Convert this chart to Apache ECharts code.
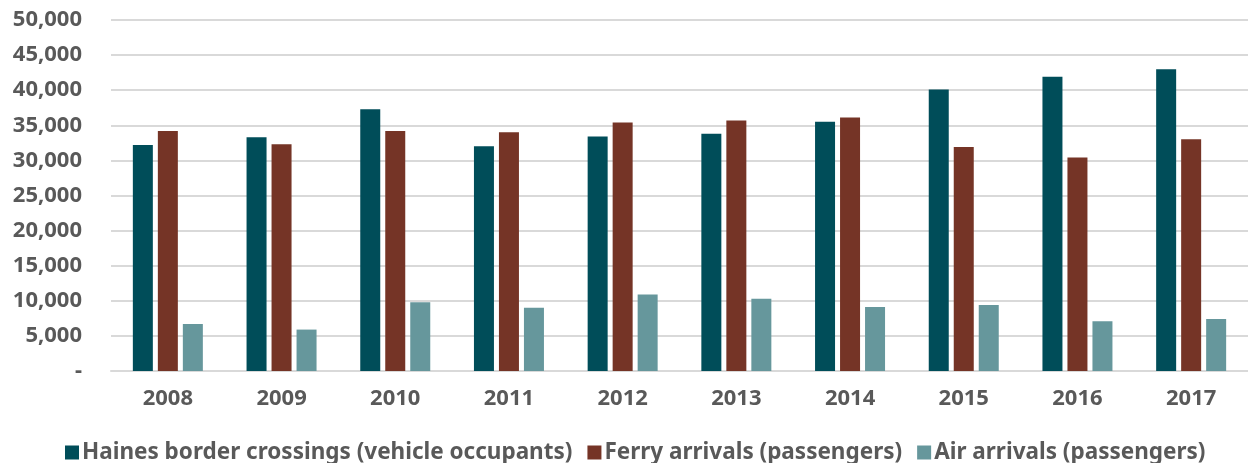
<!DOCTYPE html>
<html>
<head>
<meta charset="utf-8">
<script src="https://cdn.jsdelivr.net/npm/echarts@6/dist/echarts.min.js"></script>
<style>
  html, body { margin: 0; padding: 0; background: #ffffff; }
  #chart { width: 1248px; height: 463px; }
</style>
</head>
<body>
<div id="chart"></div>
<script>
var years = ["2008", "2009", "2010", "2011", "2012", "2013", "2014", "2015", "2016", "2017"];
var hainesBorder = [32200, 33300, 37300, 32000, 33400, 33800, 35500, 40100, 41900, 43000];
var ferryArrivals = [34200, 32300, 34200, 34000, 35400, 35700, 36100, 31900, 30400, 33000];
var airArrivals = [6700, 5900, 9800, 9000, 10900, 10300, 9100, 9400, 7100, 7400];
var seriesNames = [
  "Haines border crossings (vehicle occupants)",
  "Ferry arrivals (passengers)",
  "Air arrivals (passengers)"
];
var colors = ["#004d59", "#753426", "#66979c"];

var font = "'Noto Sans', 'Open Sans', sans-serif";
var textColor = "#595959";

function fmt(v) {
  if (v === 0) return "-";
  return v.toLocaleString("en-US");
}

var chart = echarts.init(document.getElementById("chart"));

function makeSeries(name, data, color) {
  return {
    name: name,
    type: "bar",
    data: data,
    barWidth: 20,
    barGap: "25%",
    itemStyle: { color: color },
    animation: false
  };
}

chart.setOption({
  backgroundColor: "#ffffff",
  color: colors,
  grid: {
    left: 111,
    right: 0,
    top: 20,
    bottom: 92
  },
  legend: {
    top: 436,
    left: 60,
    itemWidth: 14,
    itemHeight: 14,
    itemGap: 15,
    icon: "rect",
    textStyle: {
      fontFamily: font,
      fontWeight: "bold",
      fontSize: 22.5,
      color: textColor,
      padding: [0, 0, 0, -2]
    },
    data: seriesNames
  },
  xAxis: {
    type: "category",
    data: years,
    axisTick: { show: false },
    axisLine: { lineStyle: { color: "#d9d9d9", width: 2 } },
    axisLabel: {
      margin: 17,
      fontFamily: font,
      fontWeight: "bold",
      fontSize: 22,
      color: textColor
    }
  },
  yAxis: {
    type: "value",
    min: 0,
    max: 50000,
    interval: 5000,
    axisLine: { show: false },
    axisTick: { show: false },
    splitLine: { lineStyle: { color: "#d9d9d9", width: 2 } },
    axisLabel: {
      margin: 29,
      fontFamily: font,
      fontWeight: "bold",
      fontSize: 22,
      color: textColor,
      formatter: fmt
    }
  },
  series: [
    makeSeries(seriesNames[0], hainesBorder, colors[0]),
    makeSeries(seriesNames[1], ferryArrivals, colors[1]),
    makeSeries(seriesNames[2], airArrivals, colors[2])
  ]
});
</script>
</body>
</html>
